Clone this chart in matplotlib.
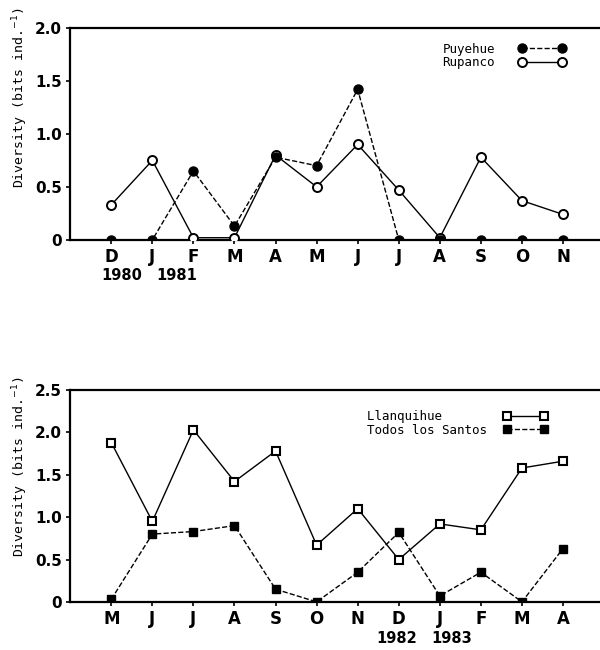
# Diversity of lakes - two panels
import matplotlib
matplotlib.use("Agg")
import matplotlib.pyplot as plt

matplotlib.rc("font", family="DejaVu Sans")

# Top panel data
months_top = ["D", "J", "F", "M", "A", "M", "J", "J", "A", "S", "O", "N"]
years_top = ["1980", "1981"]
puyehue = [0.0, 0.0, 0.65, 0.13, 0.78, 0.70, 1.42, 0.0, 0.0, 0.0, 0.0, 0.0]
rupanco = [0.33, 0.75, 0.02, 0.02, 0.80, 0.50, 0.90, 0.47, 0.02, 0.78, 0.37, 0.24]

# Bottom panel data
months_bottom = ["M", "J", "J", "A", "S", "O", "N", "D", "J", "F", "M", "A"]
years_bottom = ["1982", "1983"]
llanquihue = [1.88, 0.95, 2.03, 1.42, 1.78, 0.67, 1.10, 0.50, 0.92, 0.85, 1.58, 1.66]
todos_santos = [0.03, 0.80, 0.83, 0.90, 0.15, 0.0, 0.35, 0.82, 0.07, 0.35, 0.0, 0.63]

ylabel = "Diversity (bits ind.$^{-1}$)"
mono = "DejaVu Sans Mono"


def style_axes(ax, labels, ymax, yticks, yticklabels, label_y):
    x = list(range(1, len(labels) + 1))
    ax.set_xlim(0, 12.9)
    ax.set_ylim(0, ymax)
    ax.set_xticks(x)
    ax.set_xticklabels(labels, fontsize=12, fontweight="bold")
    ax.set_yticks(yticks)
    ax.set_yticklabels(yticklabels, fontsize=11, fontweight="bold")
    ax.set_ylabel(ylabel, fontsize=9.5, family=mono)
    ax.yaxis.set_label_coords(-0.075, label_y)
    ax.spines["right"].set_visible(False)
    for s in ["left", "bottom", "top"]:
        ax.spines[s].set_linewidth(1.6)
    ax.tick_params(direction="out", length=3, width=1.2, pad=3)
    return x


def year_labels(ax, xs, years, y):
    for xv, yr in zip(xs, years):
        ax.text(xv, y, yr, transform=ax.get_xaxis_transform(),
                ha="center", va="center", fontsize=10.5, fontweight="bold")


fig = plt.figure(figsize=(6, 6.5), dpi=100)

# Top panel
ax1 = fig.add_axes([0.117, 0.631, 0.883, 0.326])
x = style_axes(ax1, months_top, 2.0, [0, 0.5, 1.0, 1.5, 2.0],
               ["0", "0.5", "1.0", "1.5", "2.0"], 0.67)
year_labels(ax1, [1.25, 2.6], years_top, -0.17)
ax1.plot(x, rupanco, "-", color="black", lw=1.0, marker="o", ms=6.5,
         mfc="white", mec="black", mew=1.4, label="Rupanco", zorder=3)
ax1.plot(x, puyehue, "--", color="black", lw=1.0, marker="o", ms=6.5,
         mfc="black", mec="black", label="Puyehue", zorder=4)
h, l = ax1.get_legend_handles_labels()
ax1.legend(h[::-1], l[::-1], loc="upper right", bbox_to_anchor=(0.947, 0.96),
           frameon=False, prop={"family": mono, "size": 9}, markerfirst=False,
           numpoints=2, handlelength=3.8, labelspacing=0.05, handletextpad=1.85,
           borderpad=0)

# Bottom panel
ax2 = fig.add_axes([0.117, 0.074, 0.883, 0.326])
x = style_axes(ax2, months_bottom, 2.5, [0, 0.5, 1.0, 1.5, 2.0, 2.5],
               ["0", "0.5", "1.0", "1.5", "2.0", "2.5"], 0.64)
year_labels(ax2, [7.95, 9.3], years_bottom, -0.175)
ax2.plot(x, llanquihue, "-", color="black", lw=1.0, marker="s", ms=5.5,
         mfc="white", mec="black", mew=1.5, label="Llanquihue      ", zorder=3)
ax2.plot(x, todos_santos, "--", color="black", lw=1.0, marker="s", ms=6,
         mfc="black", mec="black", label="Todos los Santos", zorder=4)
ax2.legend(loc="upper right", bbox_to_anchor=(0.914, 0.935),
           frameon=False, prop={"family": mono, "size": 9}, markerfirst=False,
           numpoints=2, handlelength=3.56, labelspacing=0.05, handletextpad=1.3,
           borderpad=0)

fig.savefig("out.png", dpi=100)
